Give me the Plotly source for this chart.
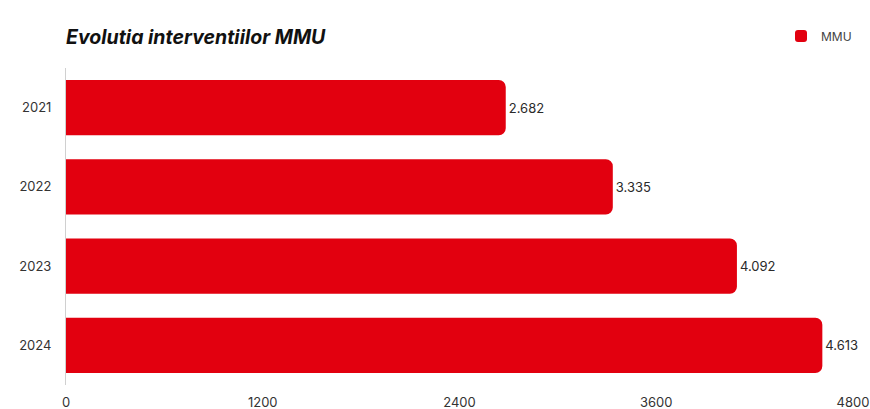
import plotly.graph_objects as go

years = ["2021", "2022", "2023", "2024"]
values = [2682, 3335, 4092, 4613]
tick_vals = [0, 1200, 2400, 3600, 4800]
series_name = "MMU"
title = "Evolutia interventiilor MMU"

W, H = 870, 409
L, R, T, B = 66, 17, 68, 24
pw, ph = W - L - R, H - T - B

fig = go.Figure()
fig.add_trace(go.Bar(
    y=years, x=values, orientation="h", name=series_name,
    marker=dict(color="#e2000f", line=dict(width=0)),
    texttemplate="%{x:,}", textposition="outside",
    textfont=dict(size=13, color="#2a2a2a", family="Inter"),
    cliponaxis=False, width=0.7,
))
fig.update_layout(
    width=W, height=H,
    margin=dict(l=L, r=R, t=T, b=B, autoexpand=False),
    paper_bgcolor="white", plot_bgcolor="white",
    separators=",.",
    barcornerradius=7,
    font=dict(family="Inter", color="#333333", size=13),
    title=dict(text="<b><i>" + title + "</i></b>", x=L / W, xanchor="left",
               y=1 - 37 / H, yanchor="middle", pad=dict(t=0, b=0, l=0, r=0),
               font=dict(size=19.5, color="#111111", family="Inter")),
    showlegend=True,
    legend=dict(x=(781 - L) / pw, y=(H - B - 36) / ph,
                xanchor="left", yanchor="middle",
                font=dict(size=12, color="#444444"),
                bgcolor="rgba(0,0,0,0)", itemwidth=30),
    xaxis=dict(range=[0, 4800], tickvals=tick_vals, tickformat="d",
               showgrid=False, zeroline=False, showline=False, automargin=False,
               ticks="outside", ticklen=5, tickcolor="rgba(0,0,0,0)",
               tickfont=dict(size=13, color="#333333")),
    yaxis=dict(autorange="reversed", showgrid=False, zeroline=False, automargin=False,
               showline=True, linecolor="#d0d0d0", linewidth=1,
               ticks="outside", ticklen=11, tickcolor="rgba(0,0,0,0)",
               tickfont=dict(size=13, color="#333333")),
)
fig.write_html("out.html",
               config={"displayModeBar": False},
               post_script="document.body.style.margin='0';document.body.style.overflow='hidden';")
